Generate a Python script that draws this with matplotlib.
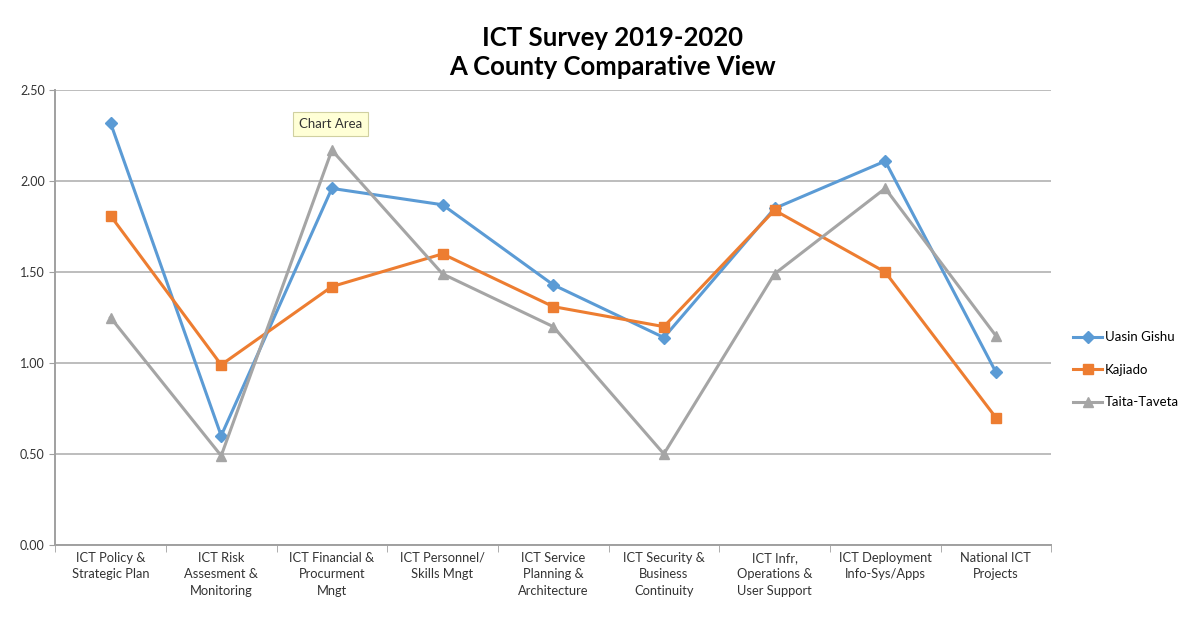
import matplotlib.pyplot as plt
from matplotlib.ticker import FormatStrFormatter

categories = [
    "ICT Policy &\nStrategic Plan",
    "ICT Risk\nAssesment &\nMonitoring",
    "ICT Financial &\nProcurment\nMngt",
    "ICT Personnel/\nSkills Mngt",
    "ICT Service\nPlanning &\nArchitecture",
    "ICT Security &\nBusiness\nContinuity",
    "ICT Infr,\nOperations &\nUser Support",
    "ICT Deployment\nInfo-Sys/Apps",
    "National ICT\nProjects",
]
uasin_gishu = [2.32, 0.60, 1.96, 1.87, 1.43, 1.14, 1.85, 2.11, 0.95]
kajiado = [1.81, 0.99, 1.42, 1.60, 1.31, 1.20, 1.84, 1.50, 0.70]
taita_taveta = [1.25, 0.49, 2.17, 1.49, 1.20, 0.50, 1.49, 1.96, 1.15]

plt.rcParams['font.family'] = ['Lato', 'DejaVu Sans']

fig = plt.figure(figsize=(12, 6.22), dpi=100)
ax = fig.add_axes([0.046, 0.124, 0.83, 0.731])

x = range(len(categories))
ax.plot(x, uasin_gishu, color='#5B9BD5', lw=2.2, marker='D', ms=6, label='Uasin Gishu')
ax.plot(x, kajiado, color='#ED7D31', lw=2.2, marker='s', ms=7, label='Kajiado')
ax.plot(x, taita_taveta, color='#A5A5A5', lw=2.2, marker='^', ms=7, label='Taita-Taveta')

ax.set_xlim(-0.5, len(categories) - 0.5)
ax.set_ylim(0, 2.5)
ax.set_yticks([0, 0.5, 1.0, 1.5, 2.0, 2.5])
ax.yaxis.set_major_formatter(FormatStrFormatter('%.2f'))
ax.grid(axis='y', color='#BDBDBD', lw=1.4)
ax.set_axisbelow(True)

ax.set_xticks(list(x))
ax.set_xticklabels(categories, fontsize=9.3, color='#333333', linespacing=1.45)
ax.set_xticks([i + 0.5 for i in range(-1, len(categories))], minor=True)
ax.tick_params(axis='x', which='major', length=0, pad=5)
ax.tick_params(axis='x', which='minor', length=5, color='#A0A0A0')
ax.tick_params(axis='y', length=4, color='#A0A0A0', labelsize=9, labelcolor='#333333')

for s in ['top', 'right']:
    ax.spines[s].set_visible(False)
for s in ['left', 'bottom']:
    ax.spines[s].set_color('#A0A0A0')
    ax.spines[s].set_linewidth(1.4)

fig.suptitle("ICT Survey 2019-2020\nA County Comparative View", x=0.51, y=0.958,
             fontsize=18.5, fontweight='bold', linespacing=1.25)

ax.legend(loc='center left', bbox_to_anchor=(1.01, 0.385), frameon=False,
          fontsize=9.5, handlelength=2.2, labelspacing=1.55, handletextpad=0.2)

ax.text(0.245, 0.925, "Chart Area", transform=ax.transAxes, fontsize=9.5,
        color='#333333', ha='left', va='center',
        bbox=dict(boxstyle='square,pad=0.45', facecolor='#FFFFD6', edgecolor='#D0D0A0', lw=0.8))

plt.savefig('out.png', dpi=100)
